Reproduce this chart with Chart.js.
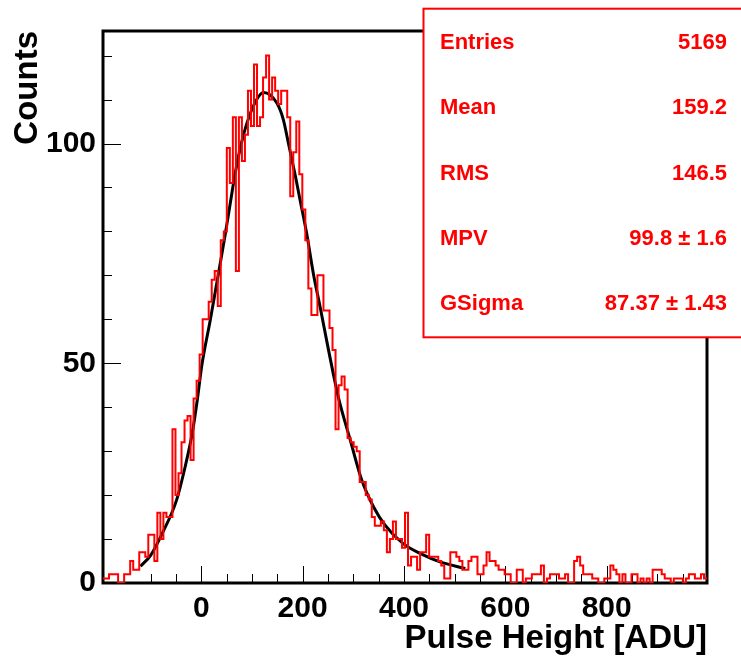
<!DOCTYPE html>
<html><head><meta charset="utf-8">
<script src="https://cdn.jsdelivr.net/npm/chart.js@4.4.1/dist/chart.umd.min.js"></script>
<style>html,body{margin:0;padding:0;background:#fff;overflow:hidden}#wrap{width:741px;height:659px}</style>
</head><body><div id="wrap"><canvas id="c" width="741" height="659"></canvas></div>
<script>
// ---- data ----
const histLow = -194;
const histHigh = 998;
const binCounts = [
 1,1,2,2,2,0,0,2,2,5,3,3,7,7,6,11,11,5,16,10,16,15,15,35,20,25,32,37,38,28,
 42,46,52,60,60,64,69,71,63,78,80,
 99,91,106,71,106,96,102,112,104,118,104,106,115,120,110,115,112,109,112,112,106,88,98,105,93,
 85,78,67,61,61,70,70,62,62,58,53,35,45,47,44,
 33,32,31,30,23,23,20,19,15,13,13,14,12,7,10,14,10,10,8,16,4,6,6,3,7,7,11,6,6,6,5,4,1,
 1,7,7,6,5,3,3,5,6,6,2,2,4,7,5,5,4,3,3,2,2,0,0,3,3,0,1,1,2,2,2,4,0,1,2,2,2,1,1,2,0,0,
 5,6,4,2,2,2,1,1,0,0,1,1,4,3,2,0,2,0,0,2,2,0,1,0,1,0,3,3,3,2,1,1,0,1,1,1,0,1,2,2,1,1,2,1
];
const fitX = [-120,-100,-77,-49,-32,-18,-8,1,18,34,47,57,67,80,100,123,149,162,172,186,195,208,221,235,248,261,271,294,317,340,363,399,438,471,521];
const fitY = [3.8,6.3,11.3,18.8,26.4,34,41.6,49.5,60,70.5,79.2,86.3,93.3,100.5,107.8,111.6,109.2,105.4,100,92.4,87.1,79.5,70.5,62.5,54.8,47.3,42,32.5,23.3,17.3,13.1,8.9,6.4,4.8,3.3];
const yMax = 125.6;
const xTickLabels = [0,200,400,600,800];
const yTickLabels = [0,50,100];
const xMinorStart = -100, xMinorStep = 50;
const yMinorStep = 10;
const xTitle = 'Pulse Height [ADU]';
const yTitle = 'Counts';
const statsNames = ['Entries','Mean','RMS','MPV','GSigma'];
const statsValues = ['5169','159.2','146.5','99.8 \u00b1 1.6','87.37 \u00b1 1.43'];

// ---- build library tables ----
const binW = (histHigh - histLow) / binCounts.length;
const histPts = [];
binCounts.forEach((c, i) => {
  histPts.push({x: histLow + i * binW, y: c});
  histPts.push({x: histLow + (i + 1) * binW, y: c});
});
const fitPts = fitX.map((x, i) => ({x, y: fitY[i]}));

const FONT = "'Liberation Sans', Arial, Helvetica, sans-serif";

const framePlugin = {
  id: 'frame',
  beforeDatasetsDraw(chart) {
    const {ctx, chartArea: a, scales: {x, y}} = chart;
    ctx.save();
    ctx.strokeStyle = '#000';
    ctx.lineWidth = 1;
    ctx.beginPath();
    for (let v = xMinorStart; v <= histHigh; v += xMinorStep) {
      const px = Math.round(x.getPixelForValue(v)) + 0.5;
      const len = xTickLabels.includes(v) ? 17 : 9;
      ctx.moveTo(px, a.bottom); ctx.lineTo(px, a.bottom - len);
    }
    for (let v = 0; v <= yMax; v += yMinorStep) {
      const py = Math.round(y.getPixelForValue(v)) + 0.5;
      const len = yTickLabels.includes(v) ? 18 : 9;
      ctx.moveTo(a.left, py); ctx.lineTo(a.left + len, py);
    }
    ctx.stroke();
    ctx.lineWidth = 3;
    ctx.strokeRect(a.left, a.top, a.right - a.left, a.bottom - a.top);
    ctx.restore();
  },
  afterDraw(chart) {
    const {ctx} = chart;
    ctx.save();
    ctx.fillStyle = '#fff';
    ctx.fillRect(423.5, 8.7, 330, 328.6);
    ctx.strokeStyle = '#ff0000';
    ctx.lineWidth = 2;
    ctx.strokeRect(423.5, 8.7, 330, 328.6);
    ctx.fillStyle = '#ff0000';
    ctx.font = 'bold 22px ' + FONT;
    ctx.textBaseline = 'middle';
    statsNames.forEach((n, i) => {
      const yy = 42.7 + i * 65.4;
      ctx.textAlign = 'left';
      ctx.fillText(n, 440, yy);
      ctx.textAlign = 'right';
      ctx.fillText(statsValues[i], 727, yy);
    });
    ctx.restore();
  }
};

new Chart(document.getElementById('c'), {
  type: 'line',
  data: {
    datasets: [
      {label: 'hist', data: histPts, borderColor: '#ff0000', borderWidth: 2, pointRadius: 0, tension: 0, fill: false},
      {label: 'fit', data: fitPts, borderColor: '#000000', borderWidth: 3, pointRadius: 0, cubicInterpolationMode: 'monotone', fill: false}
    ]
  },
  options: {
    responsive: false,
    animation: false,
    devicePixelRatio: 1,
    layout: {padding: {top: 31, right: 34, left: 0, bottom: 0}},
    plugins: {legend: {display: false}, tooltip: {enabled: false}},
    scales: {
      x: {
        type: 'linear', min: histLow, max: histHigh,
        afterBuildTicks: s => { s.ticks = xTickLabels.map(v => ({value: v})); },
        afterFit: s => { s.height = 76; },
        grid: {display: false, drawTicks: false},
        border: {display: false},
        ticks: {color: '#000', padding: 8, maxRotation: 0, autoSkip: false,
                font: {family: FONT, size: 30, weight: 'bold'}},
        title: {display: true, text: xTitle, align: 'end', color: '#000',
                font: {family: FONT, size: 33, weight: 'bold'}, padding: {top: 0, bottom: 0}}
      },
      y: {
        type: 'linear', min: 0, max: yMax,
        afterBuildTicks: s => { s.ticks = yTickLabels.map(v => ({value: v})); },
        afterFit: s => { s.width = 103; },
        grid: {display: false, drawTicks: false},
        border: {display: false},
        ticks: {color: '#000', padding: 7, font: {family: FONT, size: 30, weight: 'bold'}},
        title: {display: true, text: yTitle, align: 'end', color: '#000',
                font: {family: FONT, size: 33, weight: 'bold'}, padding: {top: 8, bottom: 0}}
      }
    }
  },
  plugins: [framePlugin]
});
</script></body></html>
